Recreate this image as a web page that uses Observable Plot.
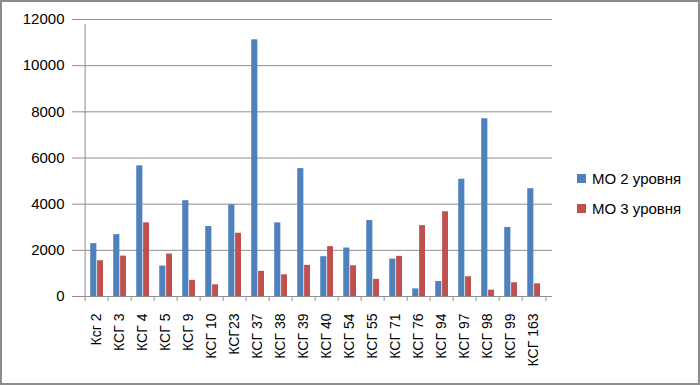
<!DOCTYPE html>
<html>
<head>
<meta charset="utf-8">
<script src="https://cdn.jsdelivr.net/npm/d3@7"></script>
<script src="https://cdn.jsdelivr.net/npm/@observablehq/plot@0.6"></script>
<style>
  html, body { margin: 0; padding: 0; background: #fff; }
  #wrap { position: relative; width: 700px; height: 385px; overflow: hidden; background: #fff; }
  #chart { position: absolute; left: 0; top: 0; }
  #border { position: absolute; left: 0; top: 0; right: 0; bottom: 0; border: 2px solid #8c8c8c; pointer-events: none; }
  #legend { position: absolute; left: 577px; top: 168px; font-family: "Liberation Sans", sans-serif; font-size: 15px; color: #000; }
  .item { display: flex; align-items: center; height: 20px; margin-bottom: 10px; }
  .sw { width: 9px; height: 9px; margin-right: 6px; }
</style>
</head>
<body>
<div id="wrap">
  <div id="chart"></div>
  <div id="legend"></div>
  <div id="border"></div>
</div>
<script>
const categories = ["Ксг 2", "КСГ 3", "КСГ 4", "КСГ 5", "КСГ 9", "КСГ 10", "КСГ23", "КСГ 37", "КСГ 38", "КСГ 39",
  "КСГ 40", "КСГ 54", "КСГ 55", "КСГ 71", "КСГ 76", "КСГ 94", "КСГ 97", "КСГ 98", "КСГ 99", "КСГ 163"];
const mo2 = [2290, 2680, 5660, 1320, 4150, 3030, 3970, 11120, 3190, 5540,
  1725, 2100, 3290, 1620, 330, 650, 5080, 7700, 2990, 4670];
const mo3 = [1550, 1750, 3190, 1840, 700, 505, 2740, 1090, 940, 1350,
  2160, 1330, 740, 1740, 3070, 3670, 855, 275, 595, 550];
const seriesNames = ["МО 2 уровня", "МО 3 уровня"];
const seriesColors = ["#4F81BD", "#C0504D"];
const yTicks = [0, 2000, 4000, 6000, 8000, 10000, 12000];

const data2 = categories.map((c, i) => ({cat: c, series: seriesNames[0], value: mo2[i]}));
const data3 = categories.map((c, i) => ({cat: c, series: seriesNames[1], value: mo3[i]}));

const W = 700, H = 385, mL = 77, mR = 148, mT = 19, mB = 89;
const bw = (W - mL - mR) / categories.length;

const chart = Plot.plot({
  width: W, height: H,
  marginLeft: mL, marginRight: mR, marginTop: mT, marginBottom: mB,
  x: {domain: categories, padding: 0, label: null},
  y: {domain: [0, 12000], label: null},
  style: {fontFamily: "Liberation Sans, sans-serif", fontSize: "15px", color: "#000", background: "transparent"},
  marks: [
    Plot.gridY(yTicks, {stroke: "#8e8e8e", strokeOpacity: 1}),
    Plot.axisY(yTicks, {tickSize: 5, tickPadding: 8, stroke: "#8e8e8e", fontSize: 15, tickFormat: d => String(d)}),
    Plot.barY(data2, {x: "cat", y: "value", fill: seriesColors[0], insetLeft: bw * 0.22, insetRight: bw - bw * 0.51}),
    Plot.barY(data3, {x: "cat", y: "value", fill: seriesColors[1], insetLeft: bw * 0.51, insetRight: bw - bw * 0.79}),
    Plot.ruleX(categories, {y1: 0, y2: 0, insetBottom: -5, dx: -bw / 2, stroke: "#8e8e8e"}),
    Plot.ruleX([categories[categories.length - 1]], {y1: 0, y2: 0, insetBottom: -5, dx: bw / 2, stroke: "#8e8e8e"}),
    Plot.ruleX([categories[0]], {y1: 0, y2: 12000, insetBottom: -5, dx: -bw / 2, stroke: "#8e8e8e"}),
    Plot.axisX({tickSize: 0, tickPadding: 17, tickRotate: -90, fontSize: 14})
  ]
});
document.getElementById("chart").appendChild(chart);

const legend = document.getElementById("legend");
seriesNames.forEach((n, i) => {
  const it = document.createElement("div");
  it.className = "item";
  const sw = document.createElement("div");
  sw.className = "sw";
  sw.style.background = seriesColors[i];
  const t = document.createElement("span");
  t.textContent = n;
  it.appendChild(sw); it.appendChild(t);
  legend.appendChild(it);
});
</script>
</body>
</html>
